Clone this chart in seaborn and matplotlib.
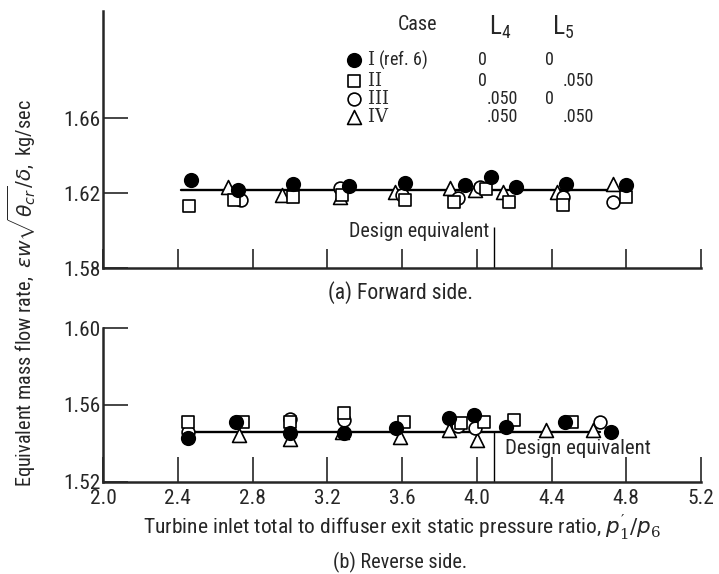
import matplotlib
matplotlib.use('Agg')
import matplotlib.pyplot as plt
from matplotlib import font_manager
import seaborn as sns

# forward side (a): pressure ratio / flow rate for each case
fwd_I_x = [2.47, 2.72, 3.015, 3.316, 3.615, 3.935, 4.077, 4.21, 4.48, 4.80]
fwd_I_y = [1.6270, 1.6216, 1.6252, 1.6237, 1.6255, 1.6243, 1.6287, 1.6234, 1.6252, 1.6243]
fwd_II_x = [2.46, 2.70, 3.017, 3.28, 3.615, 3.88, 4.05, 4.17, 4.46, 4.80]
fwd_II_y = [1.6132, 1.6165, 1.6180, 1.6190, 1.6163, 1.6154, 1.6221, 1.6154, 1.6136, 1.6180]
fwd_III_x = [2.74, 3.27, 3.60, 3.90, 4.02, 4.46, 4.73]
fwd_III_y = [1.6165, 1.6227, 1.6190, 1.6173, 1.6234, 1.6180, 1.6154]
fwd_IV_x = [2.67, 2.957, 3.27, 3.56, 3.855, 3.99, 4.14, 4.43, 4.73]
fwd_IV_y = [1.6234, 1.6189, 1.6180, 1.6207, 1.6227, 1.6216, 1.6207, 1.6207, 1.6252]

# reverse side (b)
rev_I_x = [2.455, 2.714, 3.0, 3.29, 3.57, 3.853, 3.986, 4.155, 4.47, 4.72]
rev_I_y = [1.5426, 1.5513, 1.5456, 1.5456, 1.5478, 1.5531, 1.5548, 1.5487, 1.5513, 1.5460]
rev_II_x = [2.455, 2.75, 3.0, 3.29, 3.61, 3.915, 4.04, 4.2, 4.51]
rev_II_y = [1.5510, 1.5513, 1.5510, 1.5557, 1.5513, 1.5505, 1.5513, 1.5522, 1.5511]
rev_III_x = [2.455, 3.0, 3.29, 3.9, 3.99, 4.66]
rev_III_y = [1.5460, 1.5525, 1.5522, 1.5490, 1.5478, 1.5513]
rev_IV_x = [2.73, 3.0, 3.28, 3.59, 3.85, 4.0, 4.37, 4.62]
rev_IV_y = [1.5444, 1.5421, 1.5460, 1.5435, 1.5470, 1.5417, 1.5470, 1.5470]

# design equivalent values
design_ratio = 4.09
fwd_design = 1.6215
fwd_line_x = [2.42, 4.81]
rev_design = 1.5458
rev_line_x = [2.45, 4.66]

case_labels = [r'$\mathrm{I}$ (ref. 6)', r'$\mathrm{II}$', r'$\mathrm{III}$', r'$\mathrm{IV}$']
L4_values = ['0', '0', '.050', '.050']
L5_values = ['0', '.050', '0', '.050']

x_ticks = [2.0, 2.4, 2.8, 3.2, 3.6, 4.0, 4.4, 4.8, 5.2]
x_ticklabels = ['2.0', '2.4', '2.8', '3.2', '3.6', '4.0', '4.4', '4.8', '5.2']
fwd_yticks = [1.58, 1.62, 1.66]
rev_yticks = [1.52, 1.56, 1.60]

sns.set_style('ticks')

# pick a narrow sans if one is installed
fonts = font_manager.fontManager.ttflist
names = {f.name for f in fonts}
if 'Roboto Condensed' in names:
    family = 'Roboto Condensed'
elif 'Liberation Sans Narrow' in names:
    family = 'Liberation Sans Narrow'
else:
    family = 'DejaVu Sans'
plt.rcParams['font.family'] = [family, 'DejaVu Sans']
plt.rcParams['mathtext.fontset'] = 'custom'
plt.rcParams['mathtext.rm'] = 'DejaVu Serif'
plt.rcParams['mathtext.it'] = 'DejaVu Sans:italic'
plt.rcParams['mathtext.sf'] = family

W, H = 719, 574


def px(x, y):
    return x / W, 1 - y / H


fig = plt.figure(figsize=(W / 100, H / 100), dpi=100)
ax_top = fig.add_axes([103 / W, 1 - 268 / H, 598 / W, 257 / H])
ax_bot = fig.add_axes([103 / W, 1 - 481.7 / H, 598 / W, 153.4 / H])

styles = {
    'I': dict(marker='o', color='black', s=95),
    'II': dict(marker='s', color='white', s=66),
    'III': dict(marker='o', color='white', s=85),
    'IV': dict(marker='^', color='white', s=100),
}

top_data = {'I': (fwd_I_x, fwd_I_y), 'II': (fwd_II_x, fwd_II_y),
            'III': (fwd_III_x, fwd_III_y), 'IV': (fwd_IV_x, fwd_IV_y)}
bot_data = {'I': (rev_I_x, rev_I_y), 'II': (rev_II_x, rev_II_y),
            'III': (rev_III_x, rev_III_y), 'IV': (rev_IV_x, rev_IV_y)}

handles = {}
for ax, data, line_x, design in [(ax_top, top_data, fwd_line_x, fwd_design),
                                 (ax_bot, bot_data, rev_line_x, rev_design)]:
    sns.lineplot(x=line_x, y=[design, design], ax=ax, color='black', linewidth=1.7, zorder=2)
    for case in ['IV', 'III', 'II', 'I']:
        xs, ys = data[case]
        sns.scatterplot(x=xs, y=ys, ax=ax, edgecolor='black', linewidth=1.2, zorder=3,
                        **styles[case])
        handles[case] = ax.collections[-1]
    ax.set_xlim(2.0, 5.2)
    ax.set_xticks(x_ticks)
    for side in ['top', 'right']:
        ax.spines[side].set_visible(False)
    for side in ['left', 'bottom']:
        ax.spines[side].set_linewidth(1.8)
    ax.tick_params(axis='y', direction='in', length=18, width=1.2, pad=2)

ax_top.set_ylim(1.58, 1.7175)
ax_top.set_yticks(fwd_yticks)
ax_top.set_yticklabels(['1.58', '1.62', '1.66'])
ax_top.tick_params(axis='x', direction='in', length=14, width=1.2, labelbottom=False)

ax_bot.set_ylim(1.52, 1.60)
ax_bot.set_yticks(rev_yticks)
ax_bot.set_yticklabels(['1.52', '1.56', '1.60'])
ax_bot.set_xticklabels(x_ticklabels)
ax_bot.tick_params(axis='x', direction='in', length=18, width=1.2, pad=5)
ax_bot.set_xlabel("Turbine inlet total to diffuser exit static pressure ratio, $p_1'/p_6$",
                  fontsize=12, labelpad=3)

# design equivalent markers
ax_top.vlines(design_ratio, 1.58, 1.602, color='black', linewidth=1.0)
t_des1 = ax_top.text(design_ratio - 0.025, 1.5994, 'Design equivalent', ha='right', va='center',
                     fontsize=12)
ax_bot.vlines(design_ratio, 1.52, rev_design, color='black', linewidth=1.0)
t_des2 = ax_bot.text(design_ratio + 0.06, 1.5374, 'Design equivalent', ha='left', va='center',
                     fontsize=12)

t_ylab = fig.text(*px(22, 293), r'Equivalent mass flow rate,  $\epsilon w\sqrt{\theta_{cr}}/\delta$,  kg/sec',
                  rotation=90, ha='center', va='center', fontsize=12)
t_a = fig.text(*px(400, 293), '(a) Forward side.', ha='center', va='center', fontsize=12)
t_b = fig.text(*px(400, 562), '(b) Reverse side.', ha='center', va='center', fontsize=12)
t_case = fig.text(*px(417, 24), 'Case', ha='center', va='center', fontsize=12)
t_L4 = fig.text(*px(500, 27), r'L$_\mathsf{4}$', ha='center', va='center', fontsize=14)
t_L5 = fig.text(*px(563, 27), r'L$_\mathsf{5}$', ha='center', va='center', fontsize=14)


# scale text so its size in pixels matches the reference
def fit(txt, target, use_height=False):
    fig.canvas.draw()
    bb = txt.get_window_extent()
    size = bb.height if use_height else bb.width
    txt.set_fontsize(txt.get_fontsize() * target / size)


fit(ax_bot.xaxis.label, 517)
fit(t_ylab, 388, use_height=True)
fit(t_des1, 141)
fit(t_des2, 146)
fit(t_a, 145)
fit(t_b, 134)
fit(t_case, 39)
fit(t_L4, 23)
fit(t_L5, 23)

fig.canvas.draw()
tl = ax_bot.get_yticklabels()[0]
tick_fs = tl.get_fontsize() * 37 / tl.get_window_extent().width
for ax in [ax_top, ax_bot]:
    ax.tick_params(labelsize=tick_fs)

# legend table
leg_fs = 13
row_step = 19
first_row = 60
spacing = 0.0
anchor = px(352, 54)
inv = fig.transFigure.inverted()
for _ in range(4):
    leg = ax_top.legend([handles[c] for c in ['I', 'II', 'III', 'IV']], case_labels,
                        loc='upper left', bbox_to_anchor=anchor, bbox_transform=fig.transFigure,
                        frameon=False, fontsize=leg_fs, borderpad=0, borderaxespad=0,
                        handletextpad=0.2, handlelength=1.0, labelspacing=spacing)
    fig.canvas.draw()
    bbs = [t.get_window_extent() for t in leg.get_texts()]
    ys = [(b.y0 + b.y1) / 2 for b in bbs]
    step = (ys[0] - ys[-1]) / 3
    spacing += (row_step - step) / (leg_fs * 100 / 72)
    # shift so that the first row sits where the reference has it
    dx = 367 - bbs[0].x0
    dy = (H - first_row) - ys[0]
    anchor = (anchor[0] + dx / W, anchor[1] + dy / H)

leg = ax_top.legend([handles[c] for c in ['I', 'II', 'III', 'IV']], case_labels,
                    loc='upper left', bbox_to_anchor=anchor, bbox_transform=fig.transFigure,
                    frameon=False, fontsize=leg_fs, borderpad=0, borderaxespad=0,
                    handletextpad=0.2, handlelength=1.0, labelspacing=spacing)
fig.canvas.draw()

L4_x = {'0': 478, '.050': 487}
L5_x = {'0': 545, '.050': 563}
for txt, v4, v5 in zip(leg.get_texts(), L4_values, L5_values):
    bb = txt.get_window_extent()
    yc = inv.transform((0, (bb.y0 + bb.y1) / 2))[1]
    fig.text(L4_x[v4] / W, yc, v4, ha='left', va='center', fontsize=leg_fs)
    fig.text(L5_x[v5] / W, yc, v5, ha='left', va='center', fontsize=leg_fs)

fig.savefig('out.png', dpi=100)
